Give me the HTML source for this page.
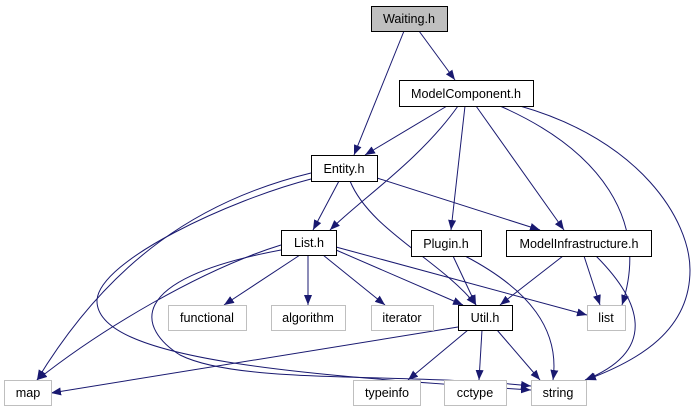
<!DOCTYPE html>
<html><head><style>
html,body{margin:0;padding:0;background:#fff;width:695px;height:411px;overflow:hidden}
svg text{font-family:"Liberation Sans",Arial,sans-serif;font-size:12.6px;fill:#000}
</style></head><body>
<svg width="695" height="411" viewBox="0 0 695 411" xmlns="http://www.w3.org/2000/svg">
<defs>
<marker id="a" markerWidth="10" markerHeight="8" refX="10" refY="4" orient="auto" markerUnits="userSpaceOnUse">
<path d="M0,0 L10,4 L0,8 Z" fill="#191970"/>
</marker>
</defs>
<g fill="none" stroke="#191970" stroke-width="1" marker-end="url(#a)">
<path d="M404,31 L354,155"/>
<path d="M419,31 L455,80"/>
<path d="M447,106 L365,155"/>
<path d="M458,106 C420,160 360,200 330,230"/>
<path d="M465,106 L451,230"/>
<path d="M476,106 L564,230"/>
<path d="M500,106 C600,150 650,220 622,305"/>
<path d="M520,106 C640,140 690,220 690,270 C690,330 640,360 586,380"/>
<path d="M311,173 C200,200 110,260 37,380"/>
<path d="M311,179 C230,200 100,260 97,300 C95,360 300,375 531,390"/>
<path d="M339,181 L313,230"/>
<path d="M350,181 C370,230 440,260 476,305"/>
<path d="M377,178 L540,230"/>
<path d="M300,255 L224,305"/>
<path d="M308,255 L308,305"/>
<path d="M323,255 L385,305"/>
<path d="M336,250 L463,305"/>
<path d="M336,247 L587,315"/>
<path d="M281,245 C200,270 100,330 37,380"/>
<path d="M281,250 C120,280 140,330 180,355 C240,385 400,372 531,386"/>
<path d="M453,256 L476,305"/>
<path d="M465,256 C530,290 560,330 553,380"/>
<path d="M563,256 L500,305"/>
<path d="M584,256 L600,305"/>
<path d="M596,256 C640,300 660,350 585,380"/>
<path d="M458,327 L51,393"/>
<path d="M468,330 L408,380"/>
<path d="M482,330 L479,380"/>
<path d="M497,330 L540,380"/>
</g>
<g stroke-width="1">
<rect x="371.5" y="6.5" width="76" height="25" fill="#bfbfbf" stroke="#000"/>
<rect x="399.5" y="80.5" width="134" height="26" fill="#fff" stroke="#000"/>
<rect x="311.5" y="155.5" width="66" height="26" fill="#fff" stroke="#000"/>
<rect x="281.5" y="230.5" width="55" height="25" fill="#fff" stroke="#000"/>
<rect x="411.5" y="230.5" width="70" height="26" fill="#fff" stroke="#000"/>
<rect x="506.5" y="230.5" width="145" height="26" fill="#fff" stroke="#000"/>
<rect x="458.5" y="305.5" width="54" height="25" fill="#fff" stroke="#000"/>
<g fill="#fff" stroke="#bfbfbf">
<rect x="168.5" y="305.5" width="78" height="25"/>
<rect x="271.5" y="305.5" width="74" height="25"/>
<rect x="371.5" y="305.5" width="62" height="25"/>
<rect x="587.5" y="305.5" width="38" height="25"/>
<rect x="4.5" y="380.5" width="47" height="25"/>
<rect x="353.5" y="380.5" width="67" height="25"/>
<rect x="444.5" y="380.5" width="62" height="25"/>
<rect x="531.5" y="380.5" width="55" height="25"/>
</g>
</g>
<g text-anchor="middle">
<text x="409" y="23">Waiting.h</text>
<text x="466" y="98">ModelComponent.h</text>
<text x="344" y="173">Entity.h</text>
<text x="309" y="247">List.h</text>
<text x="446" y="248">Plugin.h</text>
<text x="579" y="248">ModelInfrastructure.h</text>
<text x="485" y="322">Util.h</text>
<text x="207" y="322">functional</text>
<text x="308" y="322">algorithm</text>
<text x="402" y="322">iterator</text>
<text x="606" y="322">list</text>
<text x="28" y="397">map</text>
<text x="387" y="397">typeinfo</text>
<text x="475" y="397">cctype</text>
<text x="558" y="397">string</text>
</g>
</svg>
</body></html>
